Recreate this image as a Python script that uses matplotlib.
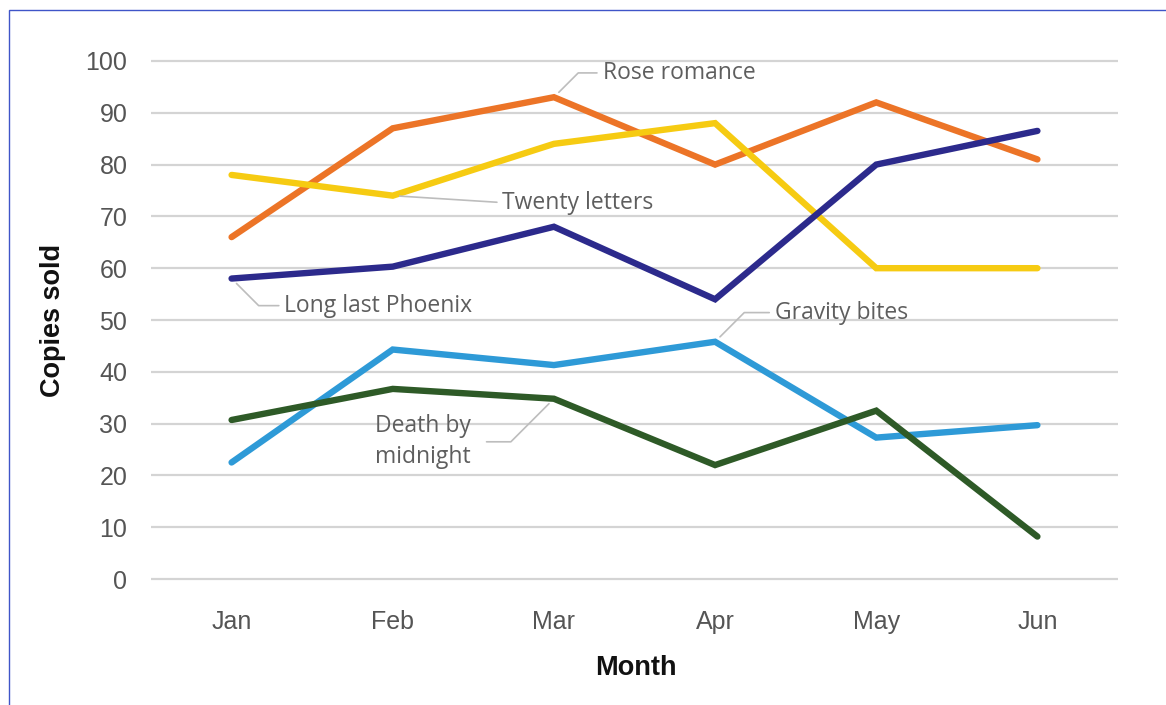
import matplotlib.pyplot as plt
from matplotlib.patches import Rectangle

# data
months = ['Jan', 'Feb', 'Mar', 'Apr', 'May', 'Jun']
rose_romance = [66, 87, 93, 80, 92, 81]
twenty_letters = [78, 74, 84, 88, 60, 60]
long_last_phoenix = [58, 60.3, 68, 54, 80, 86.5]
gravity_bites = [22.5, 44.3, 41.3, 45.8, 27.3, 29.7]
death_by_midnight = [30.7, 36.7, 34.8, 22, 32.5, 8.2]

y_ticks = list(range(0, 101, 10))

series = [
    ('Rose romance', rose_romance, '#EC7427'),
    ('Twenty letters', twenty_letters, '#F6CB12'),
    ('Long last Phoenix', long_last_phoenix, '#2C2A8C'),
    ('Gravity bites', gravity_bites, '#2E9AD7'),
    ('Death by midnight', death_by_midnight, '#2E5A27'),
]

fig = plt.figure(figsize=(11.66, 7.05), dpi=100)
ax = fig.add_axes([151/1166, (705-589.4)/705, (1118-151)/1166, (589.4-50.6)/705])

x = list(range(len(months)))
for name, vals, col in series:
    ax.plot(x, vals, color=col, lw=4.6, solid_capstyle='round', solid_joinstyle='miter', zorder=3)

ax.set_xlim(-0.5, 5.5)
ax.set_ylim(-2, 102)
ax.set_yticks(y_ticks)
ax.set_xticks(x)
ax.set_xticklabels(months)
ax.grid(axis='y', color='#D4D4D4', lw=1.6, zorder=0)
ax.set_axisbelow(True)
for s in ax.spines.values():
    s.set_visible(False)
ax.tick_params(length=0, labelsize=18, labelcolor='#555555')
ax.tick_params(axis='y', pad=17)
ax.tick_params(axis='x', pad=15)
for lab in ax.get_xticklabels() + ax.get_yticklabels():
    lab.set_fontfamily('Liberation Sans')

fig.text(636/1166, 1 - 668/705, 'Month', ha='center', va='center', fontsize=19.5,
         fontweight='bold', family='Liberation Sans', color='#111111')
fig.text(53/1166, 1 - 320/705, 'Copies sold', ha='center', va='center', fontsize=19.5,
         fontweight='bold', family='Liberation Sans', color='#111111', rotation=90)

# callout labels
lead = '#BDBDBD'
txt = dict(fontsize=16.5, color='#5E5E5E', family='Open Sans', va='center')

def callout(label, xi, yv, dx, dy, ha='left', conn='angle,angleA=0,angleB=45,rad=0',
            rel=(0, 0.5), shrink=2):
    ax.annotate(label, xy=(xi, yv), xytext=(dx, dy), textcoords='offset points', ha=ha,
                multialignment='left', linespacing=1.4,
                arrowprops=dict(arrowstyle='-', color=lead, lw=1.2, connectionstyle=conn,
                                relpos=rel, shrinkA=shrink, shrinkB=5),
                zorder=4, **txt)

callout('Rose romance', 2, rose_romance[2], 35, 17.5)
callout('Twenty letters', 1, twenty_letters[1], 79, -5, conn='arc3')
callout('Long last Phoenix', 0, long_last_phoenix[0], 38, -19.5, conn='angle,angleA=0,angleB=-45,rad=0')
callout('Gravity bites', 3, gravity_bites[3], 43, 21)
callout('Death by\nmidnight', 2, death_by_midnight[2], -59.5, -31, ha='right', rel=(1, 0.5), shrink=9)

# thin blue frame of the screenshot
fig.patches.append(Rectangle((9/1166, -0.1), 1.2, 1 - 10/705 + 0.1, transform=fig.transFigure,
                             fill=False, edgecolor='#3F55C8', lw=1.0))

fig.savefig('out.png', dpi=100)
